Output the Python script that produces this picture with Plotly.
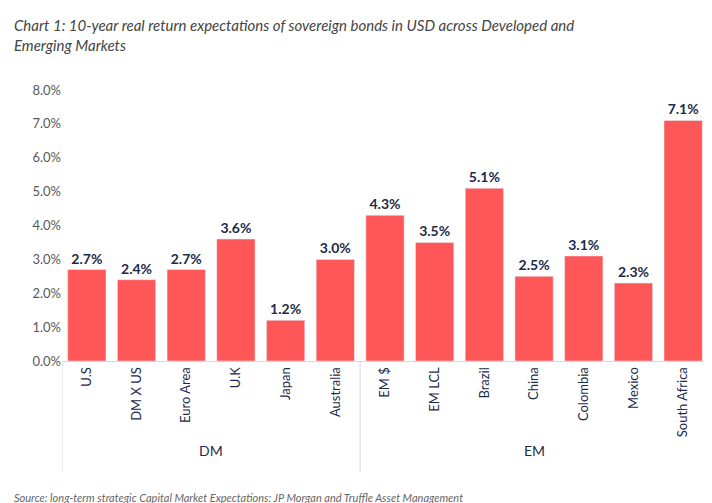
import plotly.graph_objects as go

categories = ["U.S", "DM X US", "Euro Area", "U.K", "Japan", "Australia",
              "EM $", "EM LCL", "Brazil", "China", "Colombia", "Mexico", "South Africa"]
values = [2.7, 2.4, 2.7, 3.6, 1.2, 3.0, 4.3, 3.5, 5.1, 2.5, 3.1, 2.3, 7.1]
groups = ["DM", "EM"]
group_sizes = [6, 7]

navy = "#1c2b4a"
fig = go.Figure(go.Bar(
    x=categories, y=values, marker_color="#ff5757",
    text=[f"{v:.1f}%" for v in values], textposition="outside",
    textfont=dict(family="Lato", size=14, color=navy), texttemplate="<b>%{text}</b>",
    cliponaxis=False,
))
fig.update_layout(
    width=712, height=503, plot_bgcolor="white", paper_bgcolor="white",
    margin=dict(l=54, r=12, t=82, b=150), bargap=0.23, showlegend=False,
    font=dict(family="Lato"),
)
fig.add_annotation(text="<i>Chart 1: 10-year real return expectations of sovereign bonds in USD across Developed and<br>Emerging Markets</i>",
                   xref="paper", yref="paper", x=-0.077, y=1.28, xanchor="left", yanchor="top",
                   align="left", showarrow=False, font=dict(size=15, color="#444444"))
fig.update_yaxes(range=[0, 8], dtick=1, ticksuffix=".0%", tickformat="d", showgrid=False,
                 zeroline=False, automargin=False, tickfont=dict(size=13, color="#595959"))
fig.update_xaxes(tickangle=-90, tickfont=dict(size=13, color=navy), showline=True,
                 linecolor="#d9d9d9", ticks="", range=[-0.5, 12.5], automargin=False)

start = -0.5
for g, n in zip(groups, group_sizes):
    fig.add_shape(type="line", xref="x", yref="paper", x0=start, x1=start, y0=0, y1=-0.41,
                  line=dict(color="#d9d9d9", width=1))
    fig.add_annotation(x=start + n / 2, xref="x", y=-0.37, yref="paper", text=g,
                       showarrow=False, font=dict(size=14, color=navy))
    start += n
fig.add_shape(type="line", xref="x", yref="paper", x0=start, x1=start, y0=0, y1=-0.41,
              line=dict(color="#d9d9d9", width=1))

fig.add_annotation(text="<i>Source: long-term strategic Capital Market Expectations: JP Morgan and Truffle Asset Management</i>",
                   xref="paper", yref="paper", x=-0.077, y=-0.505, xanchor="left", yanchor="middle",
                   showarrow=False, font=dict(size=11, color="#666666"))
fig.write_html("out.html")
